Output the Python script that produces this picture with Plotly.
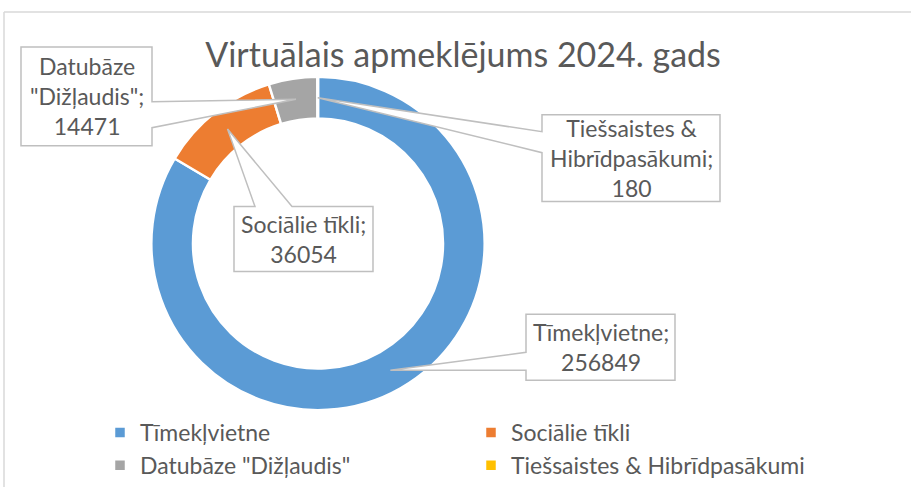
import math
import plotly.graph_objects as go

# ---- data ----
labels = ["Tīmekļvietne", "Sociālie tīkli", 'Datubāze "Dižļaudis"', "Tiešsaistes & Hibrīdpasākumi"]
values = [256849, 36054, 14471, 180]
colors = ["#5B9BD5", "#ED7D31", "#A5A5A5", "#FFC000"]
callout_wraps = ["Tīmekļvietne", "Sociālie tīkli", 'Datubāze<br>"Dižļaudis"', "Tiešsaistes &<br>Hibrīdpasākumi"]
title_text = "Virtuālais apmeklējums 2024. gads"

# ---- layout geometry (pixels) ----
W, H = 911, 487
FONT = "Lato, 'Noto Sans', sans-serif"
TXT = "#595959"
cx, cy, R = 318, 244, 167
HOLE = 0.75
r_mid = R * (1 + HOLE) / 2

def px(x):
    return x / W

def py(y):
    return 1 - y / H

# callout boxes: (x0, y0, x1, y1), side of tail, tail attach (a, b)
boxes = [
    ((526, 315, 675, 381), "left", (353, 371)),
    ((234, 207, 373, 272), "top", (255, 292)),
    ((21, 47, 152, 146), "right", (102, 128)),
    ((542, 115, 720, 202), "left", (132, 153)),
]

fig = go.Figure()
fig.add_trace(go.Pie(
    labels=labels, values=values, sort=False, direction="clockwise", rotation=0,
    hole=HOLE, textinfo="none", hoverinfo="label+value",
    marker=dict(colors=colors, line=dict(color="white", width=2.5)),
    domain=dict(x=[px(cx - R), px(cx + R)], y=[py(cy + R), py(cy - R)]),
))

total = sum(values)
cum = 0
shapes = []
annotations = []
for v, wrap, (box, side, (a, b)) in zip(values, callout_wraps, boxes):
    th = 2 * math.pi * (cum + v / 2) / total
    cum += v
    tx = cx + r_mid * math.sin(th)
    ty = cy - r_mid * math.cos(th)
    x0, y0, x1, y1 = box
    pts = [(x0, y0)]
    if side == "top":
        pts += [(a, y0), (tx, ty), (b, y0)]
    pts += [(x1, y0)]
    if side == "right":
        pts += [(x1, a), (tx, ty), (x1, b)]
    pts += [(x1, y1), (x0, y1)]
    if side == "left":
        pts += [(x0, b), (tx, ty), (x0, a)]
    path = "M " + " L ".join(f"{px(x):.5f},{py(y):.5f}" for x, y in pts) + " Z"
    shapes.append(dict(type="path", path=path, xref="paper", yref="paper",
                       line=dict(color="#BFBFBF", width=1.5), fillcolor="white", layer="above"))
    annotations.append(dict(text=f"{wrap};<br>{v}", x=px((x0 + x1) / 2), y=py((y0 + y1) / 2),
                            xref="paper", yref="paper", xanchor="center", yanchor="middle",
                            showarrow=False, font=dict(family=FONT, size=23, color=TXT)))

# chart border (top and left edges visible)
shapes.append(dict(type="line", xref="paper", yref="paper", x0=px(4), x1=px(W + 5), y0=py(12), y1=py(12),
                   line=dict(color="#D9D9D9", width=1.5)))
shapes.append(dict(type="line", xref="paper", yref="paper", x0=px(4), x1=px(4), y0=py(12), y1=py(H + 5),
                   line=dict(color="#D9D9D9", width=1.5)))

fig.update_layout(
    width=W, height=H, margin=dict(l=0, r=0, t=0, b=0),
    paper_bgcolor="white", plot_bgcolor="white",
    title=dict(text=title_text, x=px(463), y=py(55), xanchor="center", yanchor="middle",
               font=dict(family=FONT, size=34, color=TXT)),
    showlegend=True,
    legend=dict(orientation="h", x=px(100), xanchor="left", y=py(412), yanchor="top",
                entrywidth=326, entrywidthmode="pixels", traceorder="normal",
                font=dict(family=FONT, size=23, color=TXT)),
    shapes=shapes, annotations=annotations,
)

fig.write_html("out.html", config={"displayModeBar": False},
               post_script="document.body.style.margin='0';")
